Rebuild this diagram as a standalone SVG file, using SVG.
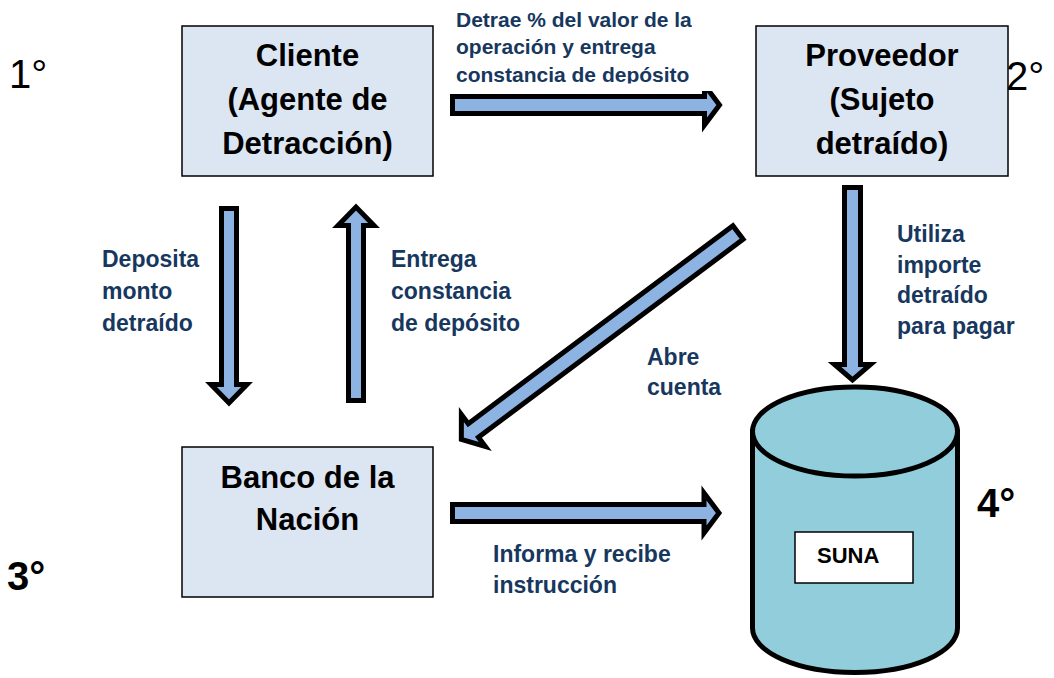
<svg xmlns="http://www.w3.org/2000/svg" width="1054" height="678" viewBox="0 0 1054 678">
  <defs>
    <style>
      .box { fill: #dce6f2; stroke: #000; stroke-width: 1.5; }
      .boxtxt { font-family: "Liberation Sans", Arial, sans-serif; font-weight: bold; font-size: 31px; fill: #000; text-anchor: middle; }
      .arrow { fill: #8db3e2; stroke: #000; stroke-width: 5; stroke-linejoin: miter; stroke-miterlimit: 10; }
      .lbl { font-family: "Liberation Sans", Arial, sans-serif; font-weight: bold; font-size: 23px; fill: #17375e; }
      .lblsm { font-family: "Liberation Sans", Arial, sans-serif; font-weight: bold; font-size: 21px; fill: #17375e; }
      .deg { font-family: "Liberation Sans", Arial, sans-serif; font-size: 40px; fill: #000; }
      .degb { font-family: "Liberation Sans", Arial, sans-serif; font-weight: bold; font-size: 40px; fill: #000; }
      .cyl { fill: #92cddc; stroke: #000; stroke-width: 5; }
    </style>
    <clipPath id="topclip">
      <rect x="440" y="0" width="310" height="83.5"/>
    </clipPath>
  </defs>
  <rect x="0" y="0" width="1054" height="678" fill="#fff"/>

  <g id="connectors">
    <!-- Cliente -> Proveedor -->
    <polygon class="arrow" points="452.5,96.5 704.5,96.5 704.5,85 719.5,105 704.5,125 704.5,113.5 452.5,113.5"/>
    <!-- Cliente -> Banco (Deposita) -->
    <polygon class="arrow" points="221.5,208.5 236.5,208.5 236.5,384.5 247,384.5 229,403 211,384.5 221.5,384.5"/>
    <!-- Banco -> Cliente (Entrega) -->
    <polygon class="arrow" points="348.5,400.5 363.5,400.5 363.5,225.5 374,225.5 356,207 338,225.5 348.5,225.5"/>
    <!-- Proveedor -> Banco (Abre cuenta) -->
    <polygon class="arrow" transform="translate(740,231) rotate(143.2)" points="2.5,-8.5 333,-8.5 333,-20 348,0 333,20 333,8.5 2.5,8.5"/>
    <!-- Proveedor -> SUNAT -->
    <polygon class="arrow" points="844.5,187.5 860.5,187.5 860.5,364.5 870.5,364.5 852.5,380 834.5,364.5 844.5,364.5"/>
    <!-- Banco -> SUNAT -->
    <polygon class="arrow" points="452.5,504.5 704,504.5 704,493 719,513 704,533 704,521.5 452.5,521.5"/>
  </g>

  <g id="cliente">
    <rect class="box" x="182" y="26" width="251" height="150"/>
    <text class="boxtxt" x="307.5" y="66">Cliente</text>
    <text class="boxtxt" x="307.5" y="110">(Agente de</text>
    <text class="boxtxt" x="307.5" y="154">Detracción)</text>
  </g>

  <g id="proveedor">
    <rect class="box" x="756" y="26" width="252" height="150"/>
    <text class="boxtxt" x="882" y="66">Proveedor</text>
    <text class="boxtxt" x="882" y="110">(Sujeto</text>
    <text class="boxtxt" x="882" y="154">detraído)</text>
  </g>

  <g id="banco">
    <rect class="box" x="182" y="447" width="251" height="150"/>
    <text class="boxtxt" x="307.5" y="488">Banco de la</text>
    <text class="boxtxt" x="307.5" y="530">Nación</text>
  </g>

  <g id="suna">
    <path class="cyl" d="M752.5,431.5 L752.5,628 A102.5,44.5 0 0 0 957.5,628 L957.5,431.5 Z"/>
    <ellipse class="cyl" cx="855" cy="431.5" rx="102.5" ry="44.5"/>
    <rect x="795" y="532" width="118" height="51" fill="#fff" stroke="#000" stroke-width="1.5"/>
    <text x="817" y="563" font-family="Liberation Sans, Arial, sans-serif" font-weight="bold" font-size="22" fill="#000">SUNA</text>
  </g>

  <g id="labels">
    <rect x="445" y="0" width="300" height="91" fill="#fff"/>
    <g clip-path="url(#topclip)">
      <text class="lblsm" x="456" y="27">Detrae % del valor de la</text>
      <text class="lblsm" x="456" y="54">operación y entrega</text>
      <text class="lblsm" x="456" y="81.5">constancia de depósito</text>
    </g>
    <text class="lbl" x="102" y="267">Deposita</text>
    <text class="lbl" x="102" y="299">monto</text>
    <text class="lbl" x="102" y="331">detraído</text>
    <text class="lbl" x="391" y="267">Entrega</text>
    <text class="lbl" x="391" y="299">constancia</text>
    <text class="lbl" x="391" y="331">de depósito</text>
    <text class="lbl" x="647" y="365">Abre</text>
    <text class="lbl" x="647" y="395">cuenta</text>
    <text class="lbl" x="897" y="242">Utiliza</text>
    <text class="lbl" x="897" y="272.5">importe</text>
    <text class="lbl" x="897" y="303">detraído</text>
    <text class="lbl" x="897" y="334">para pagar</text>
    <text class="lbl" x="493" y="562">Informa y recibe</text>
    <text class="lbl" x="493" y="593">instrucción</text>
  </g>

  <g id="steps">
    <text class="deg" x="9" y="88">1°</text>
    <text class="deg" x="1006" y="90">2°</text>
    <text class="degb" x="7" y="590">3°</text>
    <text class="degb" x="977" y="517">4°</text>
  </g>
</svg>
